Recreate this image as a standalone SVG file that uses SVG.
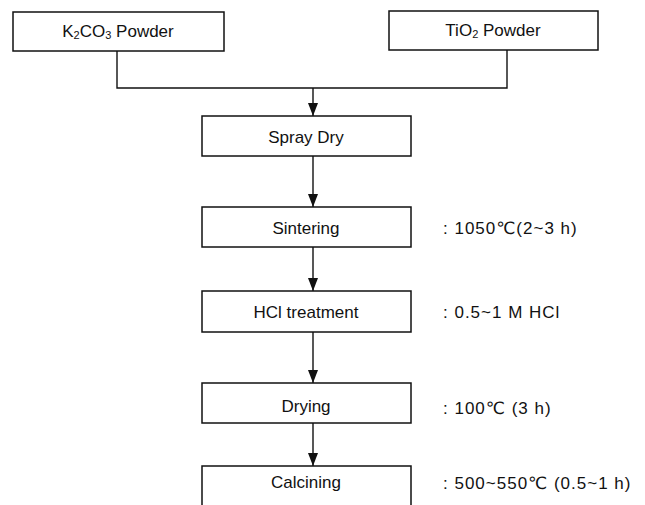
<svg xmlns="http://www.w3.org/2000/svg" width="645" height="505" viewBox="0 0 645 505">
<style>
.box{fill:#fff;stroke:#111;stroke-width:1.5}
.ln{fill:none;stroke:#111;stroke-width:1.4}
text{font-family:"Liberation Sans",Arial,"DejaVu Sans",sans-serif;font-size:17px;fill:#111;dominant-baseline:central}
.c{text-anchor:middle}
.a{letter-spacing:1px}
</style>
<defs>
<marker id="ah" markerWidth="13" markerHeight="10" refX="13" refY="5" orient="auto" markerUnits="userSpaceOnUse" viewBox="0 0 13 10">
<path d="M0,0 L13,5 L0,10 Z" fill="#111"/>
</marker>
</defs>
<rect width="645" height="505" fill="#fff"/>
<g id="connectors">
<path class="ln" d="M117,51 V88 H507 V50"/>
<path class="ln" d="M313,88 V116" marker-end="url(#ah)"/>
<path class="ln" d="M313,156 V207" marker-end="url(#ah)"/>
<path class="ln" d="M313,247 V291" marker-end="url(#ah)"/>
<path class="ln" d="M313,332 V383" marker-end="url(#ah)"/>
<path class="ln" d="M313,423 V466" marker-end="url(#ah)"/>
</g>
<g id="k2co3">
<rect class="box" x="13" y="12" width="211" height="39"/>
<text x="118" y="31" class="c">K<tspan font-size="11" dy="4">2</tspan><tspan dy="-4">CO</tspan><tspan font-size="11" dy="4">3</tspan><tspan dy="-4"> Powder</tspan></text>
</g>
<g id="tio2">
<rect class="box" x="389" y="11" width="209" height="39"/>
<text x="493" y="30" class="c">TiO<tspan font-size="11" dy="4">2</tspan><tspan dy="-4"> Powder</tspan></text>
</g>
<g id="spray">
<rect class="box" x="202" y="116" width="209" height="40"/>
<text x="306" y="137" class="c">Spray Dry</text>
</g>
<g id="sintering">
<rect class="box" x="202" y="207" width="209" height="40"/>
<text x="306" y="228" class="c">Sintering</text>
<text x="443" y="228" class="a">: 1050℃(2~3 h)</text>
</g>
<g id="hcl">
<rect class="box" x="202" y="291" width="209" height="41"/>
<text x="306" y="312" class="c">HCl treatment</text>
<text x="443" y="312" class="a">: 0.5~1 M HCl</text>
</g>
<g id="drying">
<rect class="box" x="202" y="383" width="209" height="40"/>
<text x="306" y="406" class="c">Drying</text>
<text x="443" y="408" class="a">: 100℃ (3 h)</text>
</g>
<g id="calcining">
<path class="box" d="M202,506 V466 H411 V506"/>
<text x="306" y="482" class="c">Calcining</text>
<text x="443" y="483" class="a">: 500~550℃ (0.5~1 h)</text>
</g>
</svg>
